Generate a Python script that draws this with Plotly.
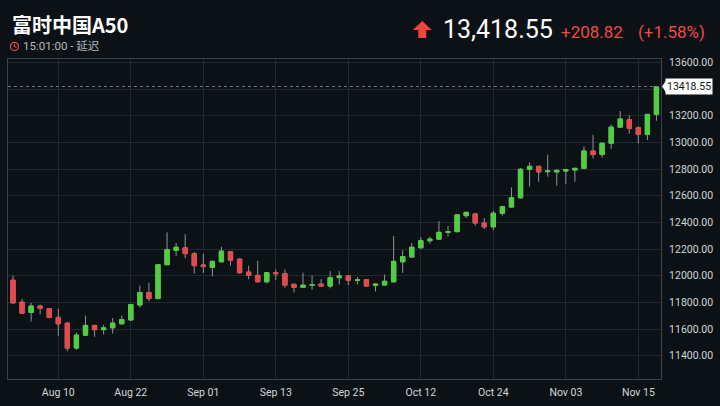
import plotly.graph_objects as go

# trading days shown on the chart (category axis)
dates = [
    '2017-08-03', '2017-08-04', '2017-08-07', '2017-08-08', '2017-08-09',
    '2017-08-10', '2017-08-11', '2017-08-14', '2017-08-15', '2017-08-16',
    '2017-08-17', '2017-08-18', '2017-08-21', '2017-08-22', '2017-08-23',
    '2017-08-24', '2017-08-25', '2017-08-28', '2017-08-29', '2017-08-30',
    '2017-08-31', '2017-09-01', '2017-09-04', '2017-09-05', '2017-09-06',
    '2017-09-07', '2017-09-08', '2017-09-11', '2017-09-12', '2017-09-13',
    '2017-09-14', '2017-09-15', '2017-09-18', '2017-09-19', '2017-09-20',
    '2017-09-21', '2017-09-22', '2017-09-25', '2017-09-26', '2017-09-27',
    '2017-09-28', '2017-09-29', '2017-10-09', '2017-10-10', '2017-10-11',
    '2017-10-12', '2017-10-13', '2017-10-16', '2017-10-17', '2017-10-18',
    '2017-10-19', '2017-10-20', '2017-10-23', '2017-10-24', '2017-10-25',
    '2017-10-26', '2017-10-27', '2017-10-30', '2017-10-31', '2017-11-01',
    '2017-11-02', '2017-11-03', '2017-11-06', '2017-11-07', '2017-11-08',
    '2017-11-09', '2017-11-10', '2017-11-13', '2017-11-14', '2017-11-15',
    '2017-11-16', '2017-11-17',
]
opens = [
    11966, 11801, 11724, 11772, 11753, 11687, 11644, 11457, 11554, 11627,
    11595, 11609, 11639, 11668, 11780, 11874, 11828, 12082, 12190, 12209,
    12165, 12080, 12063, 12104, 12180, 12124, 12027, 12002, 11954, 12022,
    12015, 11935, 11913, 11929, 11937, 11922, 11985, 11998, 11966, 11971,
    11927, 11930, 11954, 12104, 12140, 12209, 12262, 12274, 12325, 12330,
    12450, 12463, 12395, 12366, 12468, 12515, 12584, 12798, 12820, 12780,
    12778, 12785, 12793, 12805, 12935, 12908, 12993, 13114, 13169, 13109,
    13060, 13209.73,
]
highs = [
    12000, 11825, 11796, 11782, 11758, 11753, 11650, 11573, 11700, 11630,
    11631, 11682, 11700, 11790, 11925, 11947, 12085, 12325, 12245, 12311,
    12177, 12165, 12115, 12216, 12185, 12130, 12075, 12111, 12025, 12046,
    12046, 11940, 12022, 12002, 11973, 12034, 12034, 12000, 11990, 11973,
    11940, 12009, 12298, 12191, 12245, 12289, 12293, 12409, 12373, 12460,
    12480, 12470, 12433, 12487, 12525, 12662, 12807, 12851, 12825, 12907,
    12795, 12800, 12810, 12969, 13056, 13000, 13133, 13235, 13201, 13120,
    13210, 13420,
]
lows = [
    11790, 11712, 11656, 11711, 11680, 11549, 11433, 11445, 11550, 11542,
    11559, 11566, 11635, 11660, 11760, 11809, 11825, 12080, 12148, 12131,
    12015, 12020, 11995, 12100, 12075, 12015, 11973, 11950, 11942, 11966,
    11910, 11874, 11910, 11893, 11915, 11905, 11934, 11930, 11934, 11915,
    11881, 11925, 11950, 12020, 12135, 12205, 12240, 12270, 12293, 12325,
    12431, 12373, 12349, 12340, 12450, 12510, 12580, 12669, 12705, 12742,
    12676, 12686, 12705, 12800, 12879, 12885, 12951, 13110, 13065, 12993,
    13017, 13162,
]
closes = [
    11796, 11719, 11772, 11755, 11687, 11639, 11457, 11554, 11627, 11595,
    11609, 11644, 11670, 11784, 11874, 11828, 12082, 12196, 12213, 12165,
    12075, 12068, 12107, 12184, 12116, 12022, 12002, 11954, 12022, 12015,
    11929, 11913, 11929, 11932, 11922, 11985, 11998, 11966, 11968, 11922,
    11937, 11958, 12107, 12143, 12213, 12262, 12274, 12325, 12330, 12456,
    12475, 12395, 12366, 12468, 12518, 12584, 12798, 12820, 12778, 12785,
    12790, 12795, 12805, 12935, 12908, 12993, 13114, 13175, 13104, 13060,
    13209.73, 13418.55,
]
tick_dates = ['2017-08-10', '2017-08-22', '2017-09-01', '2017-09-13', '2017-09-25',
              '2017-10-12', '2017-10-24', '2017-11-03', '2017-11-15']
tick_text = ['Aug 10', 'Aug 22', 'Sep 01', 'Sep 13', 'Sep 25',
             'Oct 12', 'Oct 24', 'Nov 03', 'Nov 15']
y_ticks = [11400, 11600, 11800, 12000, 12200, 12400, 12600, 12800, 13000, 13200, 13400, 13600]

title = '富时中国A50'
time_text = '15:01:00 - 延迟'
last_price = 13418.55
change = 208.82
change_pct = 1.58

BG = '#0b1114'
GREEN = '#4fcf3f'
RED = '#e6494b'
WICK = '#8f9497'
GRID = '#1e2a34'
FRAME = '#36444e'

# plot box in pixels (720x406 window)
L, R, T, B = 7, 669, 59, 389


def px(x):
    return (x - L) / (R - L)


def py(y):
    return (B - y) / (B - T)


body_hi = [max(o, c) for o, c in zip(opens, closes)]
body_lo = [min(o, c) for o, c in zip(opens, closes)]

fig = go.Figure()
# wicks (gray)
fig.add_trace(go.Candlestick(
    x=dates, open=opens, high=highs, low=lows, close=closes,
    increasing=dict(line=dict(color=WICK, width=1), fillcolor=GREEN),
    decreasing=dict(line=dict(color=WICK, width=1), fillcolor=RED),
    whiskerwidth=0, hoverinfo='skip', showlegend=False,
))
# bodies on top
fig.add_trace(go.Candlestick(
    x=dates, open=opens, high=body_hi, low=body_lo, close=closes,
    increasing=dict(line=dict(color=GREEN, width=1), fillcolor=GREEN),
    decreasing=dict(line=dict(color=RED, width=1), fillcolor=RED),
    whiskerwidth=0, hoverinfo='skip', showlegend=False,
))

# last price dotted line
fig.add_shape(type='line', xref='paper', x0=0, x1=1, yref='y',
              y0=last_price, y1=last_price,
              line=dict(color='#6f7b84', width=1, dash='dot'))
# last price label pointer
fig.add_shape(type='path', xref='paper', xsizemode='pixel', xanchor=1,
              yref='y', ysizemode='pixel', yanchor=last_price,
              path='M 1 0 L 5 6 L 5 -6 Z', fillcolor='white',
              line=dict(width=0))
fig.add_annotation(x=1, xref='paper', y=last_price, yref='y',
                   xanchor='left', xshift=4, text=f'{last_price:.2f}',
                   showarrow=False, bgcolor='white', borderpad=1,
                   font=dict(family='Roboto', size=10.5, color='#111111'))

# header
fig.add_annotation(x=px(9), xref='paper', y=py(23), yref='paper',
                   xanchor='left', yanchor='middle', text=f'<b>{title}</b>',
                   showarrow=False,
                   font=dict(family='Noto Sans CJK SC', size=20, color='white'))
fig.add_annotation(x=px(20), xref='paper', y=py(46), yref='paper',
                   xanchor='left', yanchor='middle', text=time_text,
                   showarrow=False,
                   font=dict(family='Roboto, Noto Sans CJK SC', size=11.5,
                             color='#b4b8bc'))
# clock icon
fig.add_shape(type='circle', xref='paper', xsizemode='pixel', xanchor=px(13.5),
              yref='paper', ysizemode='pixel', yanchor=py(46),
              x0=-4, x1=4, y0=-4, y1=4, line=dict(color=RED, width=1.3))
fig.add_shape(type='path', xref='paper', xsizemode='pixel', xanchor=px(13.5),
              yref='paper', ysizemode='pixel', yanchor=py(46),
              path='M 0 2.6 L 0 0 L 2 -1', line=dict(color=RED, width=1.1))
# up arrow
fig.add_shape(type='path', xref='paper', xsizemode='pixel', xanchor=px(427),
              yref='paper', ysizemode='pixel', yanchor=py(28.5),
              path='M 0 8.5 L 9.5 -0.5 L 4 -0.5 L 4 -8.5 L -4 -8.5 L -4 -0.5 L -9.5 -0.5 Z',
              fillcolor='#f0443c', line=dict(width=0))
fig.add_annotation(x=px(446), xref='paper', y=py(29), yref='paper',
                   xanchor='left', yanchor='middle', text=f'{last_price:,.2f}',
                   showarrow=False,
                   font=dict(family='Roboto', size=25, color='white'))
fig.add_annotation(x=px(566), xref='paper', y=py(31), yref='paper',
                   xanchor='left', yanchor='middle', text=f'+{change:.2f}',
                   showarrow=False,
                   font=dict(family='Roboto', size=17, color='#ef4a45'))
fig.add_annotation(x=px(644), xref='paper', y=py(31), yref='paper',
                   xanchor='left', yanchor='middle', text=f'(+{change_pct:.2f}%)',
                   showarrow=False,
                   font=dict(family='Roboto', size=17, color='#ef4a45'))

# the 13400 label sits under the last price label, so it is left blank
y_text = ['' if v == 13400 else f'{v:.2f}' for v in y_ticks]

fig.update_layout(
    width=720, height=406,
    margin=dict(l=L, r=720 - R, t=T, b=406 - B),
    paper_bgcolor=BG, plot_bgcolor=BG,
    showlegend=False, hovermode=False,
    boxgap=0.32,
    xaxis=dict(
        type='category', range=[-0.55, 71.5],
        tickmode='array', tickvals=tick_dates, ticktext=tick_text,
        showgrid=True, gridcolor=GRID, gridwidth=1,
        showline=True, linecolor=FRAME, linewidth=1, mirror=True,
        ticks='', ticklabelstandoff=3,
        tickfont=dict(family='Roboto', size=10.5, color='#d3d7da'),
        rangeslider=dict(visible=False), fixedrange=True,
    ),
    yaxis=dict(
        side='right', range=[11225, 13625],
        tickmode='array', tickvals=y_ticks, ticktext=y_text,
        showgrid=True, gridcolor=GRID, gridwidth=1,
        showline=True, linecolor=FRAME, linewidth=1, mirror=True,
        ticks='', ticklabelstandoff=5,
        tickfont=dict(family='Roboto', size=10.5, color='#d3d7da'),
        zeroline=False, fixedrange=True,
    ),
)

fig.write_html(
    'out.html',
    config={'displayModeBar': False},
    post_script="document.body.style.margin='0';document.body.style.overflow='hidden';",
)
